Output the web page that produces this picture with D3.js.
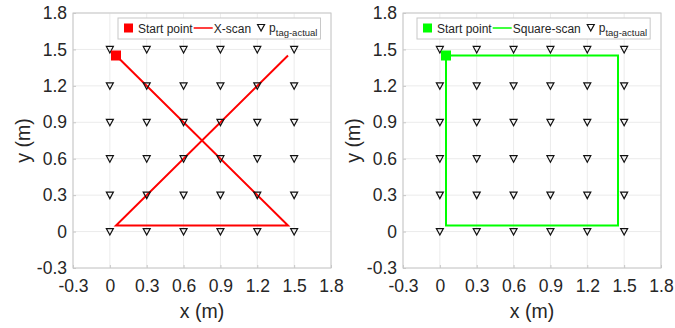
<!DOCTYPE html>
<html>
<head>
<meta charset="utf-8">
<script src="https://cdn.jsdelivr.net/npm/d3@7"></script>
<style>
  body { margin: 0; background: #fff; }
  svg { display: block; font-family: "Liberation Sans", Arial, Helvetica, sans-serif; }
</style>
</head>
<body>
<svg id="chart" width="675" height="328"></svg>
<script>
// data
const tickValues = [-0.3, 0, 0.3, 0.6, 0.9, 1.2, 1.5, 1.8];
const tagXs = [0, 0.3, 0.6, 0.9, 1.2, 1.5];
const tagYs = [0, 0.3, 0.6, 0.9, 1.2, 1.5];
const startPoint = [0.05, 1.45];
const xScanPath = [[0.05, 1.45], [1.45, 0.05], [0.05, 0.05], [1.45, 1.45]];
const squareScanPath = [[0.05, 1.45], [0.05, 0.05], [1.45, 0.05], [1.45, 1.45], [0.05, 1.45]];

const tags = [];
tagXs.forEach(x => tagYs.forEach(y => tags.push([x, y])));

const svg = d3.select("#chart");

function drawPanel(opts) {
  const { left, right, top, bottom, path, color, label } = opts;

  const x = d3.scaleLinear().domain([-0.3, 1.8]).range([left, right]);
  const y = d3.scaleLinear().domain([-0.3, 1.8]).range([bottom, top]);
  const g = svg.append("g");

  // grid
  g.append("g").selectAll("line")
    .data(tickValues)
    .join("line")
    .attr("x1", d => x(d)).attr("x2", d => x(d))
    .attr("y1", top).attr("y2", bottom)
    .attr("stroke", "#ebebeb").attr("stroke-width", 1);
  g.append("g").selectAll("line")
    .data(tickValues)
    .join("line")
    .attr("y1", d => y(d)).attr("y2", d => y(d))
    .attr("x1", left).attr("x2", right)
    .attr("stroke", "#ebebeb").attr("stroke-width", 1);

  // axes (hyphen minus like the original)
  const fmt = d => String(+d.toFixed(1));
  const xAxis = g.append("g")
    .attr("transform", `translate(0,${bottom})`)
    .call(d3.axisBottom(x).tickValues(tickValues).tickFormat(fmt).tickSizeInner(-3).tickSizeOuter(0).tickPadding(12));
  const yAxis = g.append("g")
    .attr("transform", `translate(${left},0)`)
    .call(d3.axisLeft(y).tickValues(tickValues).tickFormat(fmt).tickSizeInner(-3).tickSizeOuter(0).tickPadding(6));
  [xAxis, yAxis].forEach(a => {
    a.select(".domain").remove();
    a.selectAll(".tick line").attr("stroke", "#c8c8c8");
    a.selectAll(".tick text")
      .attr("fill", "#262626")
      .style("font-size", "17.5px");
  });

  // box
  g.append("rect")
    .attr("x", left).attr("y", top)
    .attr("width", right - left).attr("height", bottom - top)
    .attr("fill", "none").attr("stroke", "#c8c8c8").attr("stroke-width", 1);

  // axis labels
  g.append("text")
    .attr("x", (left + right) / 2)
    .attr("y", 318)
    .attr("text-anchor", "middle")
    .attr("fill", "#262626")
    .style("font-size", "19.5px")
    .text("x (m)");
  g.append("text")
    .attr("transform", `translate(${left - 43},${(top + bottom) / 2}) rotate(-90)`)
    .attr("text-anchor", "middle")
    .attr("fill", "#262626")
    .style("font-size", "19.5px")
    .text("y (m)");

  // scan path
  const line = d3.line().x(d => x(d[0])).y(d => y(d[1]));
  g.append("path")
    .datum(path)
    .attr("fill", "none")
    .attr("stroke", color)
    .attr("stroke-width", 2)
    .attr("d", line);

  // tags
  const tri = "M-3.5,-3L3.5,-3L0,3.5Z";
  g.append("g").selectAll("path")
    .data(tags)
    .join("path")
    .attr("d", tri)
    .attr("transform", d => `translate(${x(d[0])},${y(d[1])})`)
    .attr("fill", "none")
    .attr("stroke", "#111")
    .attr("stroke-width", 1.2);

  // start point
  g.append("rect")
    .attr("x", x(startPoint[0]) - 5)
    .attr("y", y(startPoint[1]) - 5)
    .attr("width", 10).attr("height", 10)
    .attr("fill", color);

  // legend
  const lg = g.append("g");
  const ly = 28;
  const fs = "12px";
  const lbox = lg.append("rect")
    .attr("y", 18).attr("height", 21)
    .attr("fill", "#fff").attr("stroke", "#c8c8c8");
  let cx = opts.legendLeft + 6;
  lg.append("rect").attr("x", cx).attr("y", ly - 4.5).attr("width", 9).attr("height", 9).attr("fill", color);
  cx += 14;
  const t1 = lg.append("text").attr("x", cx).attr("y", ly + 4.5)
    .attr("fill", "#262626").style("font-size", fs).text("Start point");
  cx += t1.node().getComputedTextLength() + 1;
  lg.append("line").attr("x1", cx).attr("x2", cx + 19).attr("y1", ly).attr("y2", ly)
    .attr("stroke", color).attr("stroke-width", 1.5);
  cx += 20;
  const t2 = lg.append("text").attr("x", cx).attr("y", ly + 4.5)
    .attr("fill", "#262626").style("font-size", fs).text(label);
  cx += t2.node().getComputedTextLength() + 10;
  lg.append("path").attr("d", tri).attr("transform", `translate(${cx},${ly - 0.5})`)
    .attr("fill", "none").attr("stroke", "#111").attr("stroke-width", 1.2);
  cx += 8;
  const t3 = lg.append("text").attr("x", cx).attr("y", ly + 4)
    .attr("fill", "#262626").style("font-size", fs);
  t3.append("tspan").text("p");
  t3.append("tspan").attr("dy", 3.5).style("font-size", "9.5px").text("tag-actual");
  cx += t3.node().getComputedTextLength() + 3;
  lbox.attr("x", opts.legendLeft).attr("width", cx - opts.legendLeft);
}

drawPanel({ left: 73, right: 331, top: 13, bottom: 268, path: xScanPath, color: "#ff0000", label: "X-scan", legendLeft: 118 });
drawPanel({ left: 403, right: 661, top: 13, bottom: 268, path: squareScanPath, color: "#00ff00", label: "Square-scan", legendLeft: 417 });
</script>
</body>
</html>
